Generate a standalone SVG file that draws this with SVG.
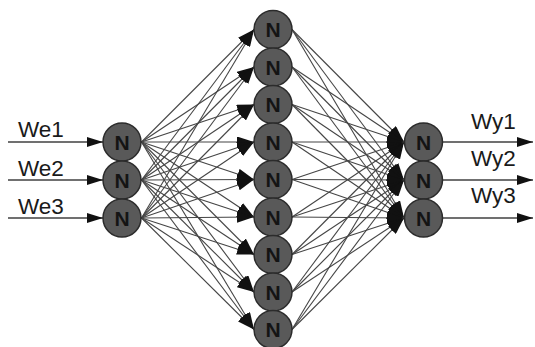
<svg xmlns="http://www.w3.org/2000/svg" width="535" height="347" viewBox="0 0 535 347">
<style>
.c{stroke:#454545;stroke-width:1.1;fill:none;marker-end:url(#ah)}
.io{stroke:#404040;stroke-width:1.4;fill:none;marker-end:url(#ah2)}
.n circle{fill:#595959;stroke:#2b2b2b;stroke-width:1.5}
.n text{font-family:"Liberation Sans",Arial,sans-serif;font-weight:bold;font-size:21px;fill:#141414;text-anchor:middle}
.lbl{font-family:"Liberation Sans",Arial,sans-serif;font-size:22.5px;fill:#1a1a1a}
</style>
<defs>
<marker id="ah" markerUnits="userSpaceOnUse" viewBox="0 0 17 11" markerWidth="17" markerHeight="11" refX="17" refY="5.5" orient="auto"><path d="M0,0L17,5.5L0,11z" fill="#111"/></marker>
<marker id="ah2" markerUnits="userSpaceOnUse" viewBox="0 0 16 10" markerWidth="16" markerHeight="10" refX="16" refY="5" orient="auto"><path d="M0,0L16,5L0,10z" fill="#111"/></marker>
</defs>
<rect width="535" height="347" fill="#fff"/>
<g id="connectors">
<path class="io" d="M8 142H103"/>
<path class="io" d="M8 180H103"/>
<path class="io" d="M8 218H103"/>
<path class="io" d="M443 142H533"/>
<path class="io" d="M443 180H533"/>
<path class="io" d="M443 218H533"/>
<path class="c" d="M141.5 142L254 29.5"/><path class="c" d="M141.5 180L254 29.5"/><path class="c" d="M141.5 218L254 29.5"/>
<path class="c" d="M141.5 142L254 67"/><path class="c" d="M141.5 180L254 67"/><path class="c" d="M141.5 218L254 67"/>
<path class="c" d="M141.5 142L254 104.5"/><path class="c" d="M141.5 180L254 104.5"/><path class="c" d="M141.5 218L254 104.5"/>
<path class="c" d="M141.5 142L254 142"/><path class="c" d="M141.5 180L254 142"/><path class="c" d="M141.5 218L254 142"/>
<path class="c" d="M141.5 142L254 179.5"/><path class="c" d="M141.5 180L254 179.5"/><path class="c" d="M141.5 218L254 179.5"/>
<path class="c" d="M141.5 142L254 217"/><path class="c" d="M141.5 180L254 217"/><path class="c" d="M141.5 218L254 217"/>
<path class="c" d="M141.5 142L254 254.5"/><path class="c" d="M141.5 180L254 254.5"/><path class="c" d="M141.5 218L254 254.5"/>
<path class="c" d="M141.5 142L254 292"/><path class="c" d="M141.5 180L254 292"/><path class="c" d="M141.5 218L254 292"/>
<path class="c" d="M141.5 142L254 329.5"/><path class="c" d="M141.5 180L254 329.5"/><path class="c" d="M141.5 218L254 329.5"/>
<path class="c" d="M292 29.5L404 142"/><path class="c" d="M292 29.5L404 180"/><path class="c" d="M292 29.5L404 218"/>
<path class="c" d="M292 67L404 142"/><path class="c" d="M292 67L404 180"/><path class="c" d="M292 67L404 218"/>
<path class="c" d="M292 104.5L404 142"/><path class="c" d="M292 104.5L404 180"/><path class="c" d="M292 104.5L404 218"/>
<path class="c" d="M292 142L404 142"/><path class="c" d="M292 142L404 180"/><path class="c" d="M292 142L404 218"/>
<path class="c" d="M292 179.5L404 142"/><path class="c" d="M292 179.5L404 180"/><path class="c" d="M292 179.5L404 218"/>
<path class="c" d="M292 217L404 142"/><path class="c" d="M292 217L404 180"/><path class="c" d="M292 217L404 218"/>
<path class="c" d="M292 254.5L404 142"/><path class="c" d="M292 254.5L404 180"/><path class="c" d="M292 254.5L404 218"/>
<path class="c" d="M292 292L404 142"/><path class="c" d="M292 292L404 180"/><path class="c" d="M292 292L404 218"/>
<path class="c" d="M292 329.5L404 142"/><path class="c" d="M292 329.5L404 180"/><path class="c" d="M292 329.5L404 218"/>
</g>
<g id="labels">
<text class="lbl" x="18" y="137">We1</text>
<text class="lbl" x="18" y="176">We2</text>
<text class="lbl" x="18" y="214">We3</text>
<text class="lbl" x="471" y="129">Wy1</text>
<text class="lbl" x="471" y="166">Wy2</text>
<text class="lbl" x="471" y="203">Wy3</text>
</g>
<g id="in1" class="n"><circle cx="122" cy="142" r="19"/><text x="122" y="149.5">N</text></g>
<g id="in2" class="n"><circle cx="122" cy="180" r="19"/><text x="122" y="187.5">N</text></g>
<g id="in3" class="n"><circle cx="122" cy="218" r="19"/><text x="122" y="225.5">N</text></g>
<g id="h1" class="n"><circle cx="273" cy="29.5" r="19"/><text x="273" y="37">N</text></g>
<g id="h2" class="n"><circle cx="273" cy="67" r="19"/><text x="273" y="74.5">N</text></g>
<g id="h3" class="n"><circle cx="273" cy="104.5" r="19"/><text x="273" y="112">N</text></g>
<g id="h4" class="n"><circle cx="273" cy="142" r="19"/><text x="273" y="149.5">N</text></g>
<g id="h5" class="n"><circle cx="273" cy="179.5" r="19"/><text x="273" y="187">N</text></g>
<g id="h6" class="n"><circle cx="273" cy="217" r="19"/><text x="273" y="224.5">N</text></g>
<g id="h7" class="n"><circle cx="273" cy="254.5" r="19"/><text x="273" y="262">N</text></g>
<g id="h8" class="n"><circle cx="273" cy="292" r="19"/><text x="273" y="299.5">N</text></g>
<g id="h9" class="n"><circle cx="273" cy="329.5" r="19"/><text x="273" y="337">N</text></g>
<g id="out1" class="n"><circle cx="423.5" cy="142" r="19"/><text x="423.5" y="149.5">N</text></g>
<g id="out2" class="n"><circle cx="423.5" cy="180" r="19"/><text x="423.5" y="187.5">N</text></g>
<g id="out3" class="n"><circle cx="423.5" cy="218" r="19"/><text x="423.5" y="225.5">N</text></g>
</svg>
